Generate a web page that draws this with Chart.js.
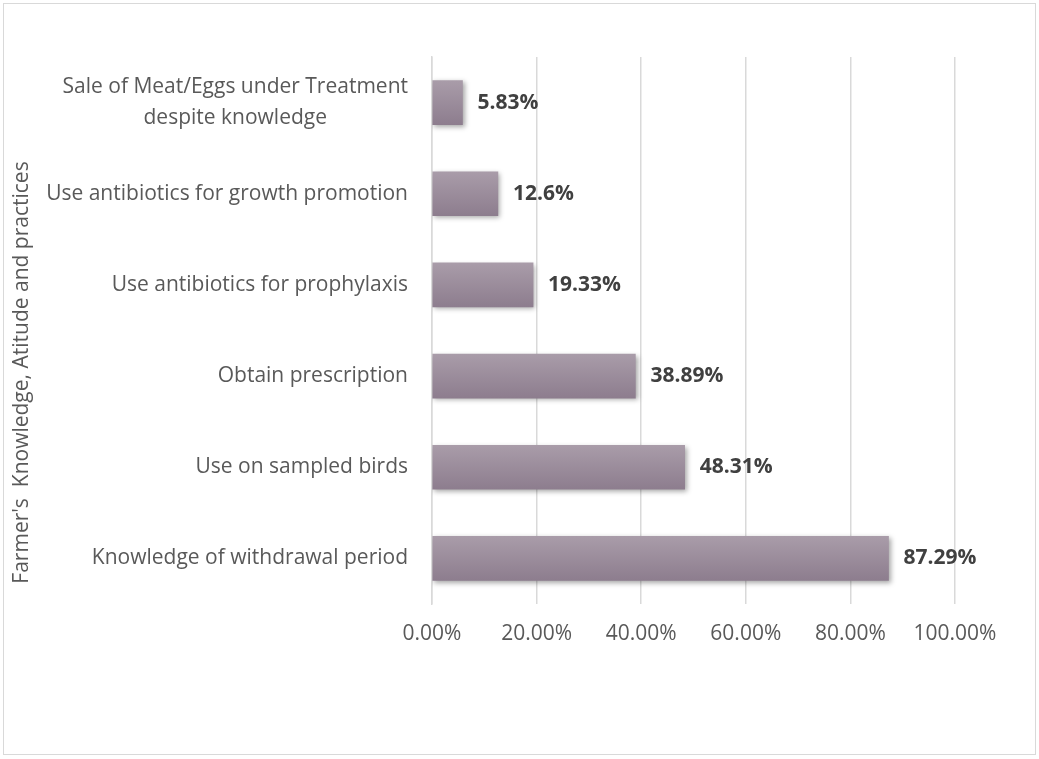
<!DOCTYPE html>
<html>
<head>
<meta charset="utf-8">
<script src="https://cdn.jsdelivr.net/npm/chart.js@4"></script>
<style>
  body { margin: 0; background: #fff; }
  #wrap { position: relative; width: 1039px; height: 759px; }
  #frame { position: absolute; left: 3px; top: 3px; width: 1031px; height: 750px; border: 1px solid #d9d9d9; pointer-events: none; }
</style>
</head>
<body>
<div id="wrap">
  <canvas id="myChart" width="1039" height="759"></canvas>
  <div id="frame"></div>
</div>
<script>
// categories (top to bottom) and values in percent
var labels = [
    ["Sale of Meat/Eggs under Treatment", "despite knowledge"],
    "Use antibiotics for growth promotion",
    "Use antibiotics for prophylaxis",
    "Obtain prescription",
    "Use on sampled birds",
    "Knowledge of withdrawal period"
];
var values = [5.83, 12.6, 19.33, 38.89, 48.31, 87.29];
var valueText = ["5.83%", "12.6%", "19.33%", "38.89%", "48.31%", "87.29%"];
var xTicks = [0, 20, 40, 60, 80, 100];
var axisTitle = "Farmer's  Knowledge, Atitude and practices";

var FONT = "'Open Sans'";
var SIZE = 21;

// vertical gradient per bar
function barFill(context) {
    var chart = context.chart;
    var y = chart.scales.y;
    if (!y || !chart.chartArea) return "#9a8b9a";
    var cy = y.getPixelForValue(context.dataIndex);
    var g = chart.ctx.createLinearGradient(0, cy - 22, 0, cy + 22);
    g.addColorStop(0, "#a99ca9");
    g.addColorStop(1, "#8d7d8e");
    return g;
}

// soft shadow under the bars
var shadowPlugin = {
    id: "shadow",
    beforeDatasetsDraw: function(chart) {
        var ctx = chart.ctx;
        ctx.save();
        ctx.shadowColor = "rgba(0,0,0,0.35)";
        ctx.shadowBlur = 5;
        ctx.shadowOffsetX = 2;
        ctx.shadowOffsetY = 2;
    },
    afterDatasetsDraw: function(chart) {
        chart.ctx.restore();
    }
};

// value labels at bar ends, centered category labels and the axis title
var labelPlugin = {
    id: "labels",
    afterDraw: function(chart) {
        var ctx = chart.ctx;
        var meta = chart.getDatasetMeta(0);
        ctx.save();
        ctx.font = "bold " + SIZE + "px " + FONT;
        ctx.fillStyle = "#404040";
        ctx.textAlign = "left";
        ctx.textBaseline = "middle";
        meta.data.forEach(function(bar, i) {
            ctx.fillText(valueText[i], bar.x + 15, bar.y);
        });

        var y = chart.scales.y;
        ctx.font = SIZE + "px " + FONT;
        ctx.fillStyle = "#595959";
        var right = y.right - 24;
        labels.forEach(function(lab, i) {
            var cy = y.getPixelForTick(i);
            if (Array.isArray(lab)) {
                var w = 0;
                lab.forEach(function(l) { w = Math.max(w, ctx.measureText(l).width); });
                var cx = right - w / 2;
                ctx.textAlign = "center";
                var lh = 31;
                lab.forEach(function(l, k) {
                    ctx.fillText(l, cx, cy + (k - (lab.length - 1) / 2) * lh);
                });
            } else {
                ctx.textAlign = "right";
                ctx.fillText(lab, right, cy);
            }
        });

        // axis title, centred on the whole chart height like the original
        ctx.translate(22, (y.top + y.bottom) / 2 + 42);
        ctx.rotate(-Math.PI / 2);
        ctx.textAlign = "center";
        ctx.fillText(axisTitle, 0, 0);
        ctx.restore();
    }
};

var ctx = document.getElementById("myChart");
new Chart(ctx, {
    type: "bar",
    data: {
        labels: labels,
        datasets: [{
            data: values,
            backgroundColor: barFill,
            borderWidth: 0,
            barThickness: 44
        }]
    },
    options: {
        indexAxis: "y",
        responsive: false,
        animation: false,
        events: [],
        layout: { padding: { left: 0, right: 84, top: 57, bottom: 95 } },
        plugins: {
            legend: { display: false },
            tooltip: { enabled: false }
        },
        scales: {
            x: {
                min: 0,
                max: 100,
                afterBuildTicks: function(scale) {
                    scale.ticks = xTicks.map(function(v) { return { value: v }; });
                },
                afterFit: function(scale) { scale.height = 60; },
                grid: { color: "#d9d9d9", lineWidth: 1.5, drawTicks: false },
                border: { display: false },
                ticks: {
                    padding: 17,
                    color: "#595959",
                    font: { family: FONT, size: SIZE },
                    callback: function(v) { return v.toFixed(2) + "%"; }
                }
            },
            y: {
                afterFit: function(scale) { scale.width = 432; },
                grid: { display: false, drawTicks: false },
                border: { display: true, color: "#d9d9d9", width: 1.5 },
                ticks: { display: false }
            }
        }
    },
    plugins: [shadowPlugin, labelPlugin]
});
</script>
</body>
</html>
